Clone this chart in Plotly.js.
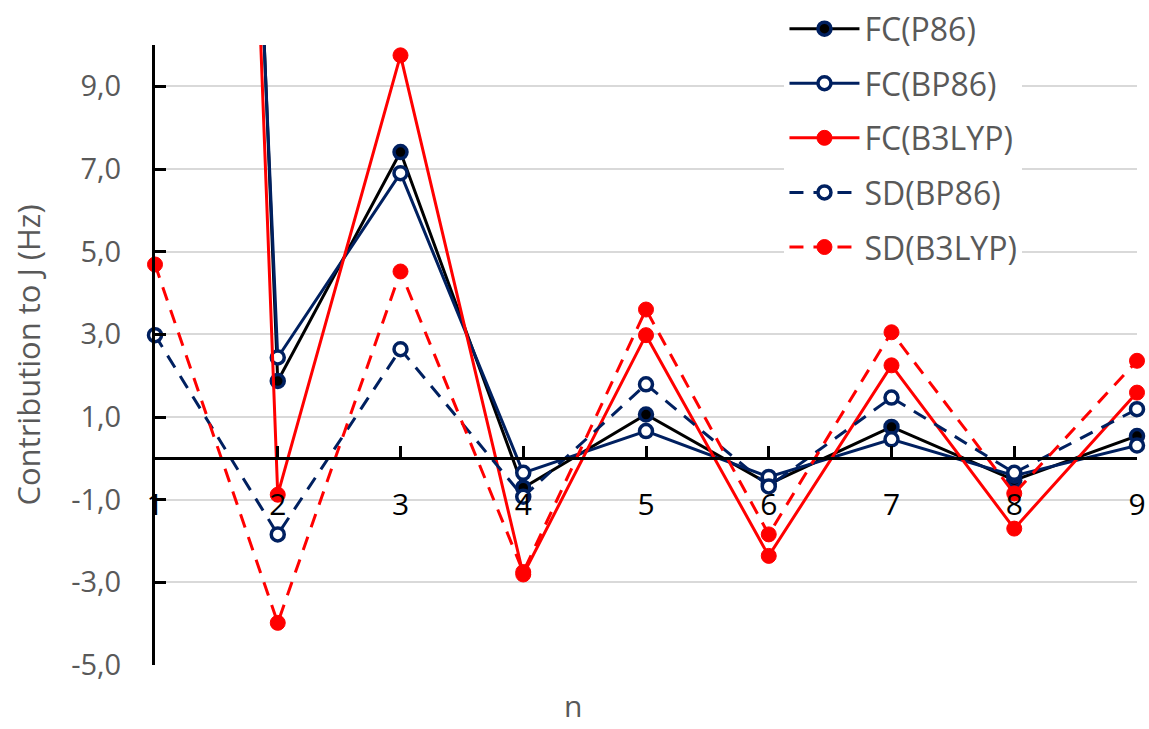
<!DOCTYPE html>
<html>
<head>
<meta charset="utf-8">
<script src="https://cdn.plot.ly/plotly-3.0.1.min.js"></script>
<style>html,body{margin:0;padding:0;background:#fff;}#chart{width:1149px;height:729px;}</style>
</head>
<body>
<div id="chart"></div>
<script>
const nValues = [1, 2, 3, 4, 5, 6, 7, 8, 9];
const fcP86   = [76, 1.87, 7.41, -0.71, 1.06, -0.62, 0.76, -0.53, 0.54];
const fcBP86  = [71, 2.44, 6.90, -0.35, 0.66, -0.45, 0.46, -0.42, 0.31];
const fcB3LYP = [78, -0.88, 9.75, -2.81, 2.98, -2.36, 2.25, -1.70, 1.59];
const sdBP86  = [2.98, -1.84, 2.64, -0.93, 1.79, -0.68, 1.47, -0.35, 1.19];
const sdB3LYP = [4.69, -3.98, 4.52, -2.75, 3.60, -1.84, 3.05, -0.85, 2.36];
const seriesNames = ["FC(P86)", "FC(BP86)", "FC(B3LYP)", "SD(BP86)", "SD(B3LYP)"];
const xTickVals = [1, 2, 3, 4, 5, 6, 7, 8, 9];
const xTickText = ["1", "2", "3", "4", "5", "6", "7", "8", "9"];
const yTickVals = [-5, -3, -1, 1, 3, 5, 7, 9];
const yTickText = ["-5,0", "-3,0", "-1,0", "1,0", "3,0", "5,0", "7,0", "9,0"];

const NAVY = "#002060", RED = "#FF0000", BLACK = "#000000", GREY = "#595959";
const FONT = "Open Sans, Noto Sans, sans-serif";

// plot area: top at 45px, bottom at 665px within a paper whose top margin is 0
const Y_DOMAIN_TOP = 620 / 665;

function tr(y, name, lineColor, dash, fill, border, size, bw, grp) {
  return {
    x: nValues, y: y, name: name, type: "scatter", mode: "lines+markers",
    line: {color: lineColor, width: 3, dash: dash},
    marker: {color: fill, size: size, line: {color: border, width: bw}},
    cliponaxis: false, legendgroup: grp
  };
}
const data = [
  tr(fcP86, seriesNames[0], BLACK, "solid", BLACK, NAVY, 13, 3.5, "a"),
  tr(fcBP86, seriesNames[1], NAVY, "solid", "#FFFFFF", NAVY, 13, 3.5, "b"),
  tr(fcB3LYP, seriesNames[2], RED, "solid", RED, RED, 15, 1, "c"),
  tr(sdBP86, seriesNames[3], NAVY, "14px,10px", "#FFFFFF", NAVY, 13, 3.5, "d"),
  tr(sdB3LYP, seriesNames[4], RED, "14px,10px", RED, RED, 15, 1, "e")
];

const layout = {
  width: 1149, height: 729,
  margin: {l: 155, r: 12, t: 0, b: 64},
  paper_bgcolor: "#FFFFFF", plot_bgcolor: "#FFFFFF",
  font: {family: FONT, size: 30, color: GREY},
  showlegend: true,
  legend: {
    x: 0.641, y: 0.998, xanchor: "left", yanchor: "top",
    bgcolor: "#FFFFFF", borderwidth: 0,
    font: {family: FONT, size: 32, color: GREY},
    itemwidth: 70, traceorder: "grouped", tracegroupgap: 10
  },
  xaxis: {
    range: [1, 9], anchor: "free", position: Y_DOMAIN_TOP / 3,
    tickvals: xTickVals, ticktext: xTickText,
    showline: true, linecolor: BLACK, linewidth: 3,
    ticks: "inside", ticklen: 11, tickwidth: 3, tickcolor: BLACK,
    showgrid: false, zeroline: false,
    tickfont: {family: FONT, size: 30, color: BLACK},
    ticklabelstandoff: 19
  },
  yaxis: {
    range: [-5, 10], domain: [0, Y_DOMAIN_TOP],
    tickvals: yTickVals, ticktext: yTickText,
    showline: true, linecolor: BLACK, linewidth: 3,
    ticks: "inside", ticklen: 11, tickwidth: 3, tickcolor: BLACK,
    showgrid: true, gridcolor: "#D9D9D9", gridwidth: 2,
    zeroline: false,
    tickfont: {family: FONT, size: 29, color: GREY},
    ticklabelstandoff: 25,
    title: {text: "Contribution to J (Hz)", font: {family: FONT, size: 31, color: GREY}, standoff: 22}
  },
  annotations: [{
    text: "n", xref: "paper", yref: "paper", x: 0.4257, y: -0.0945,
    xanchor: "center", yanchor: "bottom", showarrow: false,
    font: {family: FONT, size: 30, color: GREY}
  }]
};

Plotly.newPlot("chart", data, layout, {displayModeBar: false, staticPlot: true});
</script>
</body>
</html>
